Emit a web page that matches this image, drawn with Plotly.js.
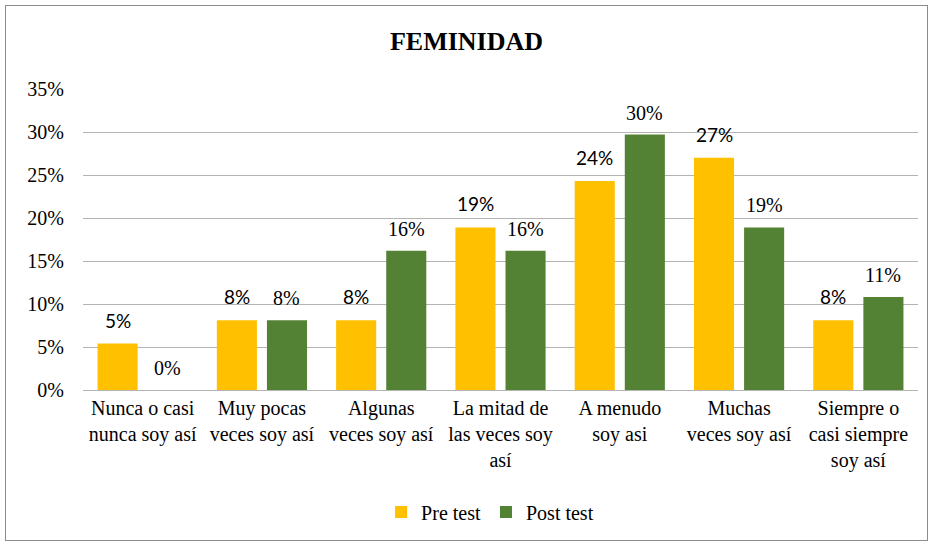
<!DOCTYPE html>
<html>
<head>
<meta charset="utf-8">
<script src="https://cdn.plot.ly/plotly-3.0.1.min.js"></script>
<style>
html,body{margin:0;padding:0;background:#fff;}
#wrap{position:relative;width:933px;height:544px;}
#chart{width:933px;height:544px;}
#frame{position:absolute;left:5px;top:5px;width:921px;height:534px;border:1px solid #8c8c8c;pointer-events:none;}
</style>
</head>
<body>
<div id="wrap"><div id="chart"></div><div id="frame"></div></div>
<script>
var categories = [
  "Nunca o casi<br>nunca soy así",
  "Muy pocas<br>veces soy así",
  "Algunas<br>veces soy así",
  "La mitad de<br>las veces soy<br>así",
  "A menudo<br>soy asi",
  "Muchas<br>veces soy así",
  "Siempre o<br>casi siempre<br>soy así"
];
var preTest  = [5.4, 8.1, 8.1, 18.9, 24.3, 27.0, 8.1];
var postTest = [0.0, 8.1, 16.2, 16.2, 29.7, 18.9, 10.8];
var preLabels  = ["5%", "8%", "8%", "19%", "24%", "27%", "8%"];
var postLabels = ["0%", "8%", "16%", "16%", "30%", "19%", "11%"];
var seriesNames = ["Pre test", "Post test"];

var serif = "Liberation Serif, Times New Roman, serif";
var sans = "Lato, Carlito, Liberation Sans, sans-serif";

var traces = [
  {type: "bar", name: seriesNames[0], x: categories, y: preTest,
   marker: {color: "#FFC000"}, hoverinfo: "none"},
  {type: "bar", name: seriesNames[1], x: categories, y: postTest,
   marker: {color: "#548235"}, hoverinfo: "none"}
];

var annotations = [];
for (var i = 0; i < categories.length; i++) {
  annotations.push({x: categories[i], y: preTest[i], xref: "x", yref: "y",
    text: preLabels[i], showarrow: false, xshift: -25, yshift: 10, yanchor: "bottom",
    font: {family: sans, size: 19, color: "#000"}});
  annotations.push({x: categories[i], y: postTest[i], xref: "x", yref: "y",
    text: postLabels[i], showarrow: false, xshift: 25, yshift: 9, yanchor: "bottom",
    font: {family: serif, size: 20, color: "#000"}});
}

var layout = {
  width: 933, height: 544,
  margin: {l: 83, r: 15, t: 89, b: 154},
  paper_bgcolor: "#fff", plot_bgcolor: "#fff",
  title: {text: "<b>FEMINIDAD</b>", font: {family: serif, size: 26, color: "#000"},
          x: 0.5, xanchor: "center", y: 0.925, yanchor: "middle"},
  barmode: "group", bargap: 0.16, bargroupgap: 0.2,
  xaxis: {tickfont: {family: serif, size: 20, color: "#000"}, showgrid: false,
          showline: true, linecolor: "#b3b3b3", linewidth: 1, ticks: "", fixedrange: true},
  yaxis: {range: [0, 35], dtick: 5, ticksuffix: "%", showgrid: true, gridcolor: "#b3b3b3",
          gridwidth: 1, zeroline: false, showline: false,
          tickfont: {family: serif, size: 20, color: "#000"},
          ticks: "outside", ticklen: 14, tickcolor: "rgba(0,0,0,0)", fixedrange: true},
  showlegend: true,
  legend: {orientation: "h", x: 0.357, xanchor: "left", y: -0.405, yanchor: "middle",
           font: {family: serif, size: 20, color: "#000"}, itemwidth: 30, traceorder: "normal"},
  annotations: annotations
};

Plotly.newPlot("chart", traces, layout, {displayModeBar: false, staticPlot: true});
</script>
</body>
</html>
